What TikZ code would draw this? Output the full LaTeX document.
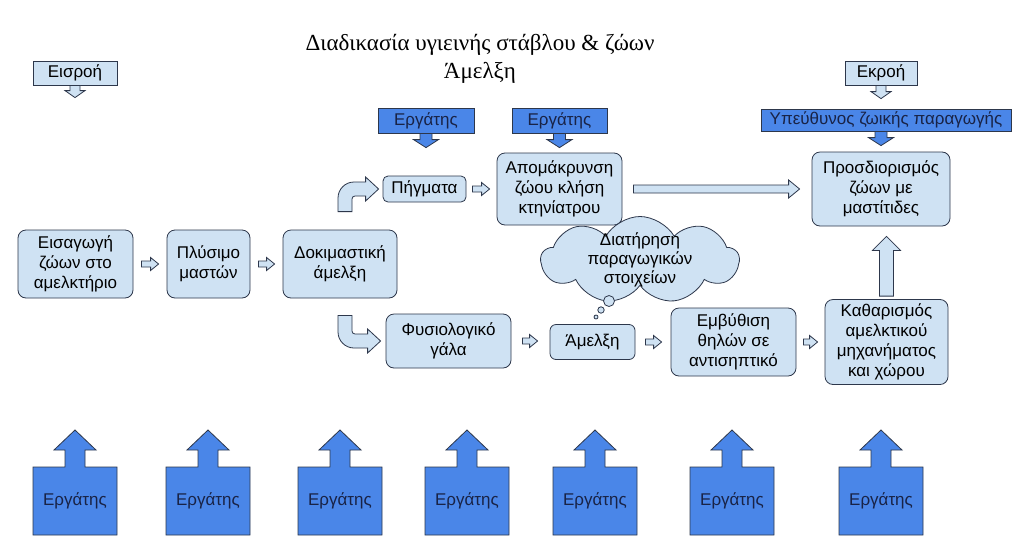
\documentclass[tikz,border=0pt]{standalone}
\usepackage{fontspec}
\setmainfont{Liberation Sans}
\newfontfamily\titlefont{Liberation Serif}
\usetikzlibrary{calc,shapes.symbols}

\definecolor{boxfill}{RGB}{207,226,243}
\definecolor{wrkfill}{RGB}{74,134,232}
\definecolor{edge}{RGB}{45,55,75}
\definecolor{wrktext}{RGB}{25,35,70}
\newcommand\bodyfont{\fontsize{17}{20}\selectfont}

\tikzset{
	box/.style={draw=edge, line width=0.8pt, fill=boxfill, rounded corners=8pt, align=center, font=\bodyfont, inner sep=0pt},
	tag/.style={draw=edge, line width=0.8pt, fill=boxfill, font=\bodyfont, inner sep=0pt},
	wrk/.style={draw=edge, line width=0.8pt, fill=wrkfill, text=wrktext, font=\bodyfont, inner sep=0pt},
	wtext/.style={text=wrktext, font=\bodyfont, inner sep=0pt, minimum width=84pt, minimum height=68pt},
	wshape/.style={draw=edge, line width=0.8pt, fill=wrkfill},
	bubble/.style={draw=edge, line width=0.8pt, fill=boxfill},
	arrdim/.code args={#1/#2/#3}{\def\ahw{#1pt}\def\ahh{#2pt}\def\ahl{#3pt}},
	arrgap/.code args={#1/#2}{\def\ags{#1pt}\def\age{#2pt}},
	blk/.style={draw=edge, line width=0.8pt, fill=boxfill, arrgap=0/0, to path={
		let \p1=(\tikztostart), \p2=(\tikztotarget), \n1={veclen(\x2-\x1,\y2-\y1)} in
		($(\p1)!\ags!(\p2)!\ahw!90:(\p2)$)
		-- ($(\p1)!\n1-\age-\ahl!(\p2)!\ahw!90:(\p2)$)
		-- ($(\p1)!\n1-\age-\ahl!(\p2)!\ahh!90:(\p2)$)
		-- ($(\p1)!\n1-\age!(\p2)$)
		-- ($(\p1)!\n1-\age-\ahl!(\p2)!\ahh!-90:(\p2)$)
		-- ($(\p1)!\n1-\age-\ahl!(\p2)!\ahw!-90:(\p2)$)
		-- ($(\p1)!\ags!(\p2)!\ahw!-90:(\p2)$)
		-- cycle}},
	sarr/.style={blk, arrdim=3/6.5/8, arrgap=8/8},
	larr/.style={blk, arrdim=4/9/11, arrgap=11/12},
	iarr/.style={blk, arrdim=5/10/7},
	darr/.style={blk, fill=wrkfill, arrdim=6/12.5/8},
	uarr/.style={blk, arrdim=7/14/14},
	bentu/.style={draw=edge, line width=0.8pt, fill=boxfill, to path={
		let \p1=(\tikztostart), \p2=(\tikztotarget) in
		(\x1-7pt,\y1) -- (\x1-7pt,\y2+7pt-16pt)
		.. controls (\x1-7pt,\y2+7pt-7.2pt) and (\x1-7pt+7.2pt,\y2+7pt) .. (\x1-7pt+16pt,\y2+7pt)
		-- (\x2-13pt,\y2+7pt) -- (\x2-13pt,\y2+12pt) -- (\x2,\y2) -- (\x2-13pt,\y2-12pt) -- (\x2-13pt,\y2-7pt)
		-- (\x1+7pt+3pt,\y2-7pt)
		.. controls (\x1+7pt+1.3pt,\y2-7pt) and (\x1+7pt,\y2-7pt-1.3pt) .. (\x1+7pt,\y2-7pt-3pt)
		-- (\x1+7pt,\y1) -- cycle}},
	bentd/.style={draw=edge, line width=0.8pt, fill=boxfill, to path={
		let \p1=(\tikztostart), \p2=(\tikztotarget) in
		(\x1-7pt,\y1) -- (\x1-7pt,\y2-7pt+16pt)
		.. controls (\x1-7pt,\y2-7pt+7.2pt) and (\x1-7pt+7.2pt,\y2-7pt) .. (\x1-7pt+16pt,\y2-7pt)
		-- (\x2-13pt,\y2-7pt) -- (\x2-13pt,\y2-12pt) -- (\x2,\y2) -- (\x2-13pt,\y2+12pt) -- (\x2-13pt,\y2+7pt)
		-- (\x1+7pt+3pt,\y2+7pt)
		.. controls (\x1+7pt+1.3pt,\y2+7pt) and (\x1+7pt,\y2+7pt+1.3pt) .. (\x1+7pt,\y2+7pt+3pt)
		-- (\x1+7pt,\y1) -- cycle}},
}

\begin{document}
\begin{tikzpicture}[x=1pt, y=-1pt]
	\path[use as bounding box, fill=white] (0,0) rectangle (1024,552);

	\node[align=center, font=\titlefont\fontsize{23}{28}\selectfont] (ttl) at (480,59) {Διαδικασία υγιεινής στάβλου \& ζώων\\Άμελξη};

	\node[tag, minimum width=84pt, minimum height=24pt] (inp) at (75,73) {Εισροή};
	\node[tag, minimum width=72pt, minimum height=24pt] (outp) at (881,73) {Εκροή};

	\node[wrk, minimum width=96pt, minimum height=25pt] (e1) at (426,120.5) {Εργάτης};
	\node[wrk, minimum width=95pt, minimum height=25pt] (e2) at (559.5,120.5) {Εργάτης};
	\node[wrk, minimum width=250pt, minimum height=22pt] (ypz) at (886,120) {Υπεύθυνος ζωικής παραγωγής};

	\node[box, minimum width=83pt, minimum height=26pt, rounded corners=5pt] (pig) at (424.5,189) {Πήγματα};
	\node[box, minimum width=125pt, minimum height=72pt] (apo) at (559.5,189) {Απομάκρυνση\\ζώου κλήση\\κτηνίατρου};
	\node[box, minimum width=138pt, minimum height=74pt] (pro) at (881,189) {Προσδιορισμός\\ζώων με\\μαστίτιδες};

	\node[box, minimum width=115pt, minimum height=68pt] (eis) at (75.5,264) {Εισαγωγή\\ζώων στο\\αμελκτήριο};
	\node[box, minimum width=83pt, minimum height=68pt] (ply) at (208.5,264) {Πλύσιμο\\μαστών};
	\node[box, minimum width=114pt, minimum height=68pt] (dok) at (340,264) {Δοκιμαστική\\άμελξη};

	\node[cloud, cloud puffs=9, cloud puff arc=120, cloud ignores aspect, draw=edge, line width=0.8pt, fill=boxfill, minimum width=198pt, minimum height=87pt, inner sep=0pt,
		label={[font=\fontsize{17}{19}\selectfont, align=center]center:Διατήρηση\\παραγωγικών\\στοιχείων}] (cld) at (640,260) {};
	\draw[bubble] (609,301) circle (5.5pt);
	\draw[bubble] (601,310) circle (3.2pt);
	\draw[bubble] (596,317) circle (2pt);

	\node[box, minimum width=125pt, minimum height=54pt] (fys) at (448.5,341) {Φυσιολογικό\\γάλα};
	\node[box, minimum width=85pt, minimum height=35pt, rounded corners=6pt] (ame) at (592.5,342) {Άμελξη};
	\node[box, minimum width=125pt, minimum height=68pt] (emb) at (733.5,342) {Εμβύθιση\\θηλών σε\\αντισηπτικό};
	\node[box, minimum width=123pt, minimum height=85pt] (kat) at (886.5,342) {Καθαρισμός\\αμελκτικού\\μηχανήματος\\και χώρου};

	\draw[iarr, arrgap=0/132] (inp.south) to (inp.south |- eis.north);
	\draw[iarr, arrgap=0/10] (outp.south) to (outp.south |- ypz.north);
	\draw[darr, arrgap=0/28] (e1.south) to (e1.south |- pig.north);
	\draw[darr, arrgap=0/5] (e2.south) to (e2.south |- apo.north);
	\draw[darr, arrgap=0/6] (ypz.south -| pro.north) to (pro.north);

	\draw[sarr] (eis.east) to (ply.west);
	\draw[sarr] (ply.east) to (dok.west);
	\draw[bentu] ($(dok.north)+(5,-18)$) to ([xshift=-4pt]pig.west);
	\draw[bentd] ($(dok.south)+(5,17)$) to ([xshift=-5pt]fys.west);
	\draw[sarr, arrgap=6/7] (pig.east) to (apo.west);
	\draw[larr] (apo.east) to (pro.west);
	\draw[sarr, arrgap=11/12] (fys.east) to (fys.east -| ame.west);
	\draw[sarr, arrgap=10/9] (ame.east) to (emb.west);
	\draw[sarr, arrgap=7/7] (emb.east) to (kat.west);
	\draw[uarr, arrgap=3/10] (kat.north) to (kat.north |- pro.south);

	\foreach \x [count=\i] in {75,208,340,467,595,732,881} {
		\draw[wshape] (\x-42,535) -- (\x-42,467) -- (\x-10,467) -- (\x-10,450) -- (\x-21,450) -- (\x,430) -- (\x+21,450) -- (\x+10,450) -- (\x+10,467) -- (\x+42,467) -- (\x+42,535) -- cycle;
		\node[wtext] (w\i) at (\x,501) {Εργάτης};
	}
\end{tikzpicture}
\end{document}
